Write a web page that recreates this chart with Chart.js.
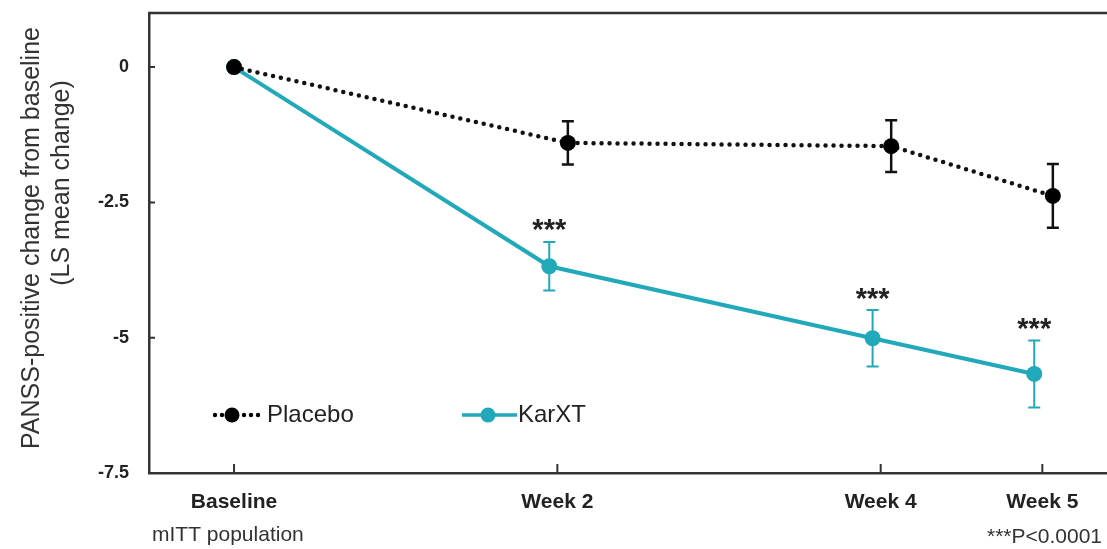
<!DOCTYPE html>
<html>
<head>
<meta charset="utf-8">
<script src="https://cdn.jsdelivr.net/npm/chart.js@4.4.0/dist/chart.umd.min.js"></script>
<style>
  html, body { margin: 0; padding: 0; background: #fff; }
  #wrap { width: 1107px; height: 549px; position: relative; }
</style>
</head>
<body>
<div id="wrap"><canvas id="panssChart"></canvas></div>
<script>
const weeks = [0, 2, 4, 5];
const weekLabels = ['Baseline', 'Week 2', 'Week 4', 'Week 5'];
const yTicks = [0, -2.5, -5, -7.5];

const placeboMean = [0, -1.40, -1.46, -2.38];
const placeboErr = [0, 0.40, 0.48, 0.59];
const karxtMean = [0, -3.68, -5.01, -5.67];
const karxtErr = [0, 0.45, 0.52, 0.62];
const karxtSig = ['', '***', '***', '***'];

const TEAL = '#21a9ba';
const INK = '#222';
const FONT = "'Liberation Sans', Arial, sans-serif";

// nudge the two arms apart a little so their error bars don't sit on top of each other
function points(mean, shift) {
  return weeks.map((w, i) => ({ x: w === 0 ? w : w + shift, y: mean[i] }));
}

const errorBars = {
  id: 'errorBars',
  beforeDatasetsDraw(chart) {
    const { ctx, scales: { x, y } } = chart;
    chart.data.datasets.forEach(ds => {
      ctx.save();
      ctx.strokeStyle = ds.barColor;
      ctx.lineWidth = ds.barWidth;
      ds.errors.forEach((e, i) => {
        if (!e) return;
        const p = ds.data[i];
        const px = x.getPixelForValue(p.x);
        const top = y.getPixelForValue(p.y + e);
        const bot = y.getPixelForValue(p.y - e);
        const cap = 6;
        ctx.beginPath();
        ctx.moveTo(px, top); ctx.lineTo(px, bot);
        ctx.moveTo(px - cap, top); ctx.lineTo(px + cap, top);
        ctx.moveTo(px - cap, bot); ctx.lineTo(px + cap, bot);
        ctx.stroke();
      });
      ctx.restore();
    });
  },
  afterDatasetsDraw(chart) {
    const { ctx, scales: { x, y } } = chart;
    chart.data.datasets.forEach(ds => {
      if (!ds.stars) return;
      ctx.save();
      ctx.font = 'bold 29px ' + FONT;
      ctx.fillStyle = INK;
      ctx.textAlign = 'center';
      ctx.textBaseline = 'top';
      ds.stars.forEach((s, i) => {
        if (!s) return;
        const p = ds.data[i];
        ctx.fillText(s, x.getPixelForValue(p.x), y.getPixelForValue(p.y + ds.errors[i]) - 25);
      });
      ctx.restore();
    });
  }
};

// frame extras: top rule, inward ticks, y title, legend and footnotes
const frame = {
  id: 'frame',
  afterDraw(chart) {
    const { ctx, chartArea: a, scales: { x, y } } = chart;
    ctx.save();
    ctx.strokeStyle = '#333';
    ctx.lineWidth = 2.5;
    ctx.beginPath();
    ctx.moveTo(a.left - 1, a.top); ctx.lineTo(a.right, a.top);
    ctx.stroke();
    ctx.lineWidth = 2;
    ctx.beginPath();
    yTicks.forEach(v => {
      const py = y.getPixelForValue(v);
      ctx.moveTo(a.left, py); ctx.lineTo(a.left + 6, py);
    });
    weeks.forEach(v => {
      const px = x.getPixelForValue(v);
      ctx.moveTo(px, a.bottom); ctx.lineTo(px, a.bottom - 9);
    });
    ctx.stroke();

    ctx.fillStyle = '#333';
    ctx.font = '25px ' + FONT;
    ctx.textAlign = 'center';
    ctx.textBaseline = 'middle';
    [['PANSS-positive change from baseline', 32, 238], ['(LS mean change)', 62, 183]].forEach(([t, tx, ty]) => {
      ctx.save();
      ctx.translate(tx, ty);
      ctx.rotate(-Math.PI / 2);
      ctx.fillText(t, 0, 0);
      ctx.restore();
    });

    // legend
    const ly = 415;
    const [plc, kxt] = chart.data.datasets;
    ctx.fillStyle = plc.pointBackgroundColor;
    [215, 222, 244, 251, 258].forEach(dx => {
      ctx.beginPath(); ctx.arc(dx, ly, 2.2, 0, Math.PI * 2); ctx.fill();
    });
    ctx.beginPath(); ctx.arc(232, ly, 7.5, 0, Math.PI * 2); ctx.fill();
    ctx.strokeStyle = kxt.borderColor;
    ctx.lineWidth = 3.5;
    ctx.beginPath(); ctx.moveTo(462, ly); ctx.lineTo(517, ly); ctx.stroke();
    ctx.fillStyle = kxt.pointBackgroundColor;
    ctx.beginPath(); ctx.arc(488, ly, 7.5, 0, Math.PI * 2); ctx.fill();
    ctx.fillStyle = INK;
    ctx.font = '24px ' + FONT;
    ctx.textAlign = 'left';
    ctx.fillText(plc.label, 267, ly);
    ctx.fillText(kxt.label, 518, ly);

    ctx.fillStyle = '#333';
    ctx.font = '21px ' + FONT;
    ctx.fillText('mITT population', 152, 535);
    ctx.textAlign = 'right';
    ctx.fillText('***P<0.0001', 1102, 537);
    ctx.restore();
  }
};

new Chart(document.getElementById('panssChart'), {
  type: 'line',
  data: {
    datasets: [
      {
        label: 'Placebo',
        data: points(placeboMean, 0.065),
        errors: placeboErr,
        barColor: '#111', barWidth: 2.5,
        borderColor: '#111',
        borderWidth: 4.5,
        borderDash: [0, 8],
        borderCapStyle: 'round',
        pointBackgroundColor: '#000',
        pointBorderWidth: 0,
        pointRadius: 8,
        tension: 0
      },
      {
        label: 'KarXT',
        data: points(karxtMean, -0.05),
        errors: karxtErr,
        stars: karxtSig,
        barColor: TEAL, barWidth: 2,
        borderColor: TEAL,
        borderWidth: 4,
        pointBackgroundColor: TEAL,
        pointBorderWidth: 0,
        pointRadius: 8,
        tension: 0
      }
    ]
  },
  options: {
    responsive: true,
    maintainAspectRatio: false,
    animation: false,
    layout: { autoPadding: false, padding: { top: 13, right: 0, bottom: 0, left: 0 } },
    plugins: { legend: { display: false }, tooltip: { enabled: false } },
    scales: {
      x: {
        type: 'linear',
        min: -0.526,
        max: 5.4,
        grid: { display: false, drawTicks: false },
        border: { display: true, color: '#333', width: 2.5 },
        afterBuildTicks: s => { s.ticks = weeks.map(v => ({ value: v })); },
        afterFit: s => { s.height = 76; s.paddingLeft = 0; s.paddingRight = 0; },
        ticks: {
          callback: (v, i) => weekLabels[i],
          font: { family: FONT, size: 21, weight: 'bold' },
          color: INK,
          padding: 17,
          maxRotation: 0,
          autoSkip: false
        }
      },
      y: {
        min: -7.5,
        max: 1,
        grid: { display: false, drawTicks: false },
        border: { display: true, color: '#333', width: 2.5 },
        afterBuildTicks: s => { s.ticks = yTicks.map(v => ({ value: v })); },
        afterFit: s => { s.width = 149; s.paddingTop = 0; s.paddingBottom = 0; },
        ticks: {
          font: { family: FONT, size: 18, weight: 'bold' },
          color: INK,
          padding: 20
        }
      }
    }
  },
  plugins: [errorBars, frame]
});
</script>
</body>
</html>
